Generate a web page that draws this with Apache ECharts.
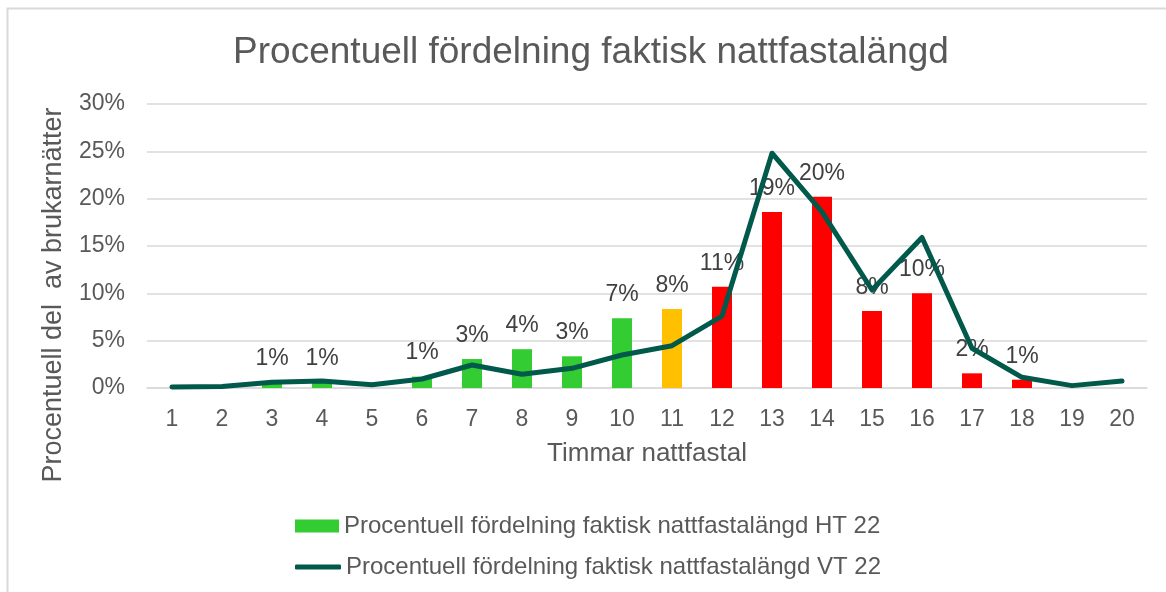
<!DOCTYPE html>
<html>
<head>
<meta charset="utf-8">
<script src="https://cdn.jsdelivr.net/npm/echarts@6/dist/echarts.min.js"></script>
<style>
html,body{margin:0;padding:0;background:#fff;}
#chart{width:1166px;height:592px;}
</style>
</head>
<body>
<div id="chart"></div>
<script>
const categories = ['1','2','3','4','5','6','7','8','9','10','11','12','13','14','15','16','17','18','19','20'];
const seriesHT22 = [0, 0.2, 0.6, 0.65, 0, 1.2, 3.06, 4.1, 3.35, 7.36, 8.35, 10.7, 18.6, 20.2, 8.13, 10.0, 1.55, 0.88, 0, 0];
const seriesVT22 = [0.1, 0.15, 0.6, 0.75, 0.35, 0.95, 2.43, 1.45, 2.08, 3.49, 4.47, 7.6, 24.8, 18.6, 10.35, 15.9, 4.2, 1.13, 0.25, 0.74];
const yTicks = [0, 5, 10, 15, 20, 25, 30];
const titleText = 'Procentuell fördelning faktisk nattfastalängd';
const xName = 'Timmar nattfastal';
const yName = 'Procentuell del  av brukarnätter';
const nameHT = 'Procentuell fördelning faktisk nattfastalängd HT 22';
const nameVT = 'Procentuell fördelning faktisk nattfastalängd VT 22';
const barColors = ['#33CC33','#33CC33','#33CC33','#33CC33','#33CC33','#33CC33','#33CC33','#33CC33','#33CC33','#33CC33',
  '#FFC000','#FF0000','#FF0000','#FF0000','#FF0000','#FF0000','#FF0000','#FF0000','#FF0000','#FF0000'];

const FONT = '"Liberation Sans", Arial, sans-serif';
const chart = echarts.init(document.getElementById('chart'));
chart.setOption({
  animation: false,
  backgroundColor: '#fff',
  graphic: [{
    type: 'rect', left: 5, top: 6, shape: {x: 0, y: 0, width: 1300, height: 700},
    style: {fill: 'none', stroke: '#D9D9D9', lineWidth: 2}, silent: true, z: -1
  }, {
    type: 'text', x: 591, y: 53, silent: true,
    style: {text: titleText, fontFamily: FONT, fontSize: 37, fill: '#595959', align: 'center', verticalAlign: 'middle'}
  }, {
    type: 'text', x: 54, y: 295, rotation: Math.PI / 2, silent: true,
    style: {text: yName, fontFamily: FONT, fontSize: 27, fill: '#595959', align: 'center', verticalAlign: 'middle'}
  }],
  grid: {left: 147, right: 19, top: 104, bottom: 204},
  legend: [{
    data: [{name: nameHT, icon: 'rect'}],
    orient: 'vertical', left: 295, top: 514, padding: 0, itemWidth: 44, itemHeight: 13, itemGap: 5,
    textStyle: {fontFamily: FONT, fontSize: 24, color: '#595959'}
  }, {
    data: [{name: nameVT, icon: 'roundRect'}],
    orient: 'vertical', left: 295, top: 555, padding: 0, itemWidth: 46, itemHeight: 5, itemGap: 5,
    textStyle: {fontFamily: FONT, fontSize: 24, color: '#595959'}
  }],
  xAxis: {
    type: 'category', data: categories,
    name: xName, nameLocation: 'middle', nameGap: 53,
    nameTextStyle: {fontFamily: FONT, fontSize: 26, color: '#595959'},
    axisLine: {lineStyle: {color: '#D9D9D9', width: 1.5}},
    axisTick: {show: false},
    axisLabel: {fontFamily: FONT, fontSize: 23, color: '#595959', margin: 20}
  },
  yAxis: {
    type: 'value', min: 0, max: 30, interval: 5,
    axisLine: {show: false}, axisTick: {show: false},
    splitLine: {lineStyle: {color: '#D9D9D9', width: 1.5}},
    axisLabel: {fontFamily: FONT, fontSize: 23, color: '#595959', margin: 22,
      formatter: v => yTicks.includes(v) ? v + '%' : ''}
  },
  series: [{
    name: nameHT, type: 'bar', barWidth: 20,
    itemStyle: {color: '#33CC33'},
    data: seriesHT22.map((v, i) => ({value: v, itemStyle: {color: barColors[i]}})),
    label: {
      show: true, position: 'top', distance: 12,
      fontFamily: FONT, fontSize: 23, color: '#404040',
      formatter: p => p.value >= 0.5 ? Math.round(p.value) + '%' : ''
    },
    z: 2
  }, {
    name: nameVT, type: 'line', data: seriesVT22,
    showSymbol: false, symbol: 'none',
    lineStyle: {color: '#00594A', width: 5, cap: 'round', join: 'round'},
    itemStyle: {color: '#00594A'},
    z: 3
  }]
});
</script>
</body>
</html>
